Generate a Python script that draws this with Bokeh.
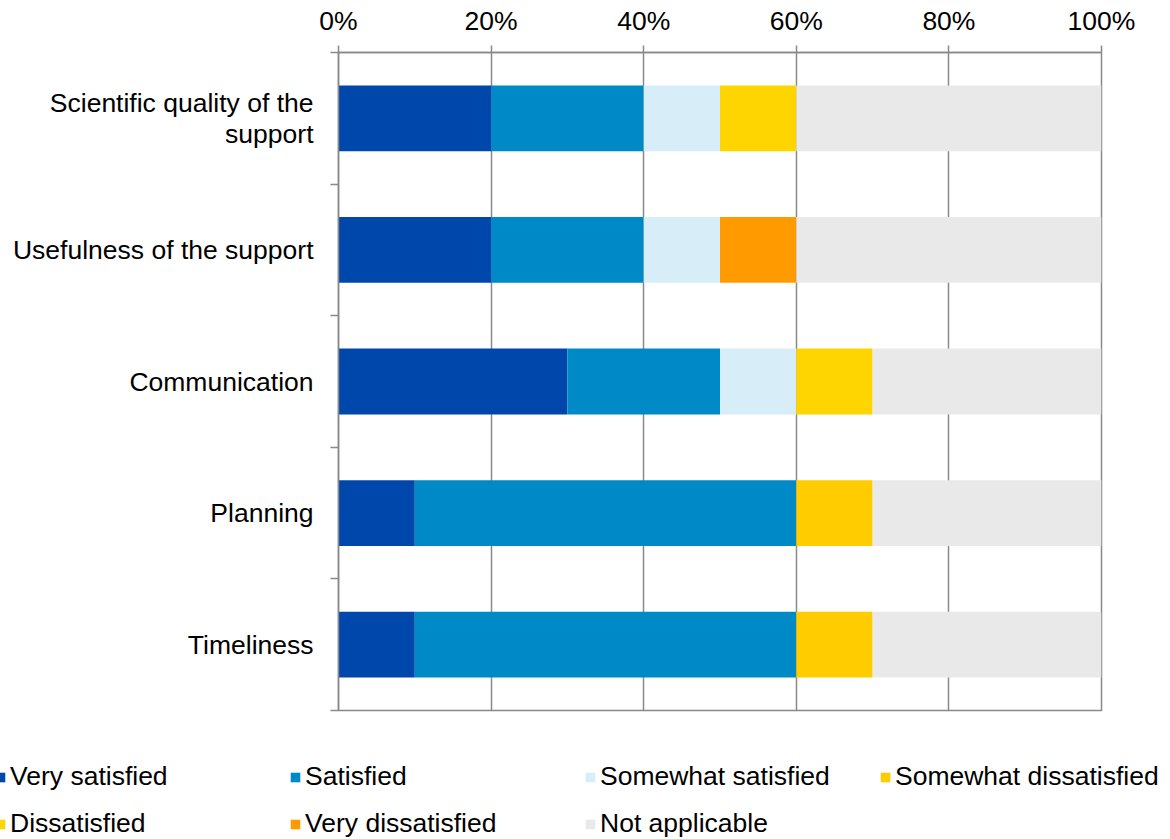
from bokeh.plotting import figure
from bokeh.models import ColumnDataSource, FixedTicker, Legend, Range1d
from bokeh.layouts import column, row
from bokeh.embed import file_html
from bokeh.resources import INLINE

categories = ["Scientific quality of the\nsupport", "Usefulness of the support",
              "Communication", "Planning", "Timeliness"]
series = ["Very satisfied", "Satisfied", "Somewhat satisfied", "Somewhat dissatisfied",
          "Dissatisfied", "Very dissatisfied", "Not applicable"]
very_satisfied = [20, 20, 30, 10, 10]
satisfied = [20, 20, 20, 50, 50]
somewhat_satisfied = [10, 10, 10, 0, 0]
somewhat_dissatisfied = [0, 0, 0, 10, 10]
dissatisfied = [10, 0, 10, 0, 0]
very_dissatisfied = [0, 10, 0, 0, 0]
not_applicable = [40, 40, 30, 30, 30]
x_ticks = [0, 20, 40, 60, 80, 100]

colors = ["#0047AB", "#0089C7", "#D7EEF9", "#FFCC00", "#FFD500", "#FF9B00", "#E9E9E9"]

n = len(categories)
ypos = [n - i - 0.5 for i in range(n)]
data = {"y": ypos}
for name, vals in zip(series, [very_satisfied, satisfied, somewhat_satisfied,
                               somewhat_dissatisfied, dissatisfied,
                               very_dissatisfied, not_applicable]):
    data[name] = vals
src = ColumnDataSource(data)

FONT = "Liberation Sans"
FS = "26.5px"
GRAY = "#898989"

p = figure(width=1162, height=716, output_backend="svg", toolbar_location=None,
           x_range=Range1d(0, 100), y_range=Range1d(0, n),
           x_axis_location="above", min_border_left=338, min_border_right=61,
           min_border_top=52, min_border_bottom=6)
p.frame_width = 763
p.frame_height = 658

renderers = p.hbar_stack(series, y="y", height=0.5, color=colors, source=src,
                         line_width=0)

# x axis (top)
xa = p.xaxis[0]
xa.ticker = FixedTicker(ticks=x_ticks)
xa.major_label_overrides = {t: f"{t}%" for t in x_ticks}
xa.major_label_text_font = FONT
xa.major_label_text_font_size = FS
xa.major_label_text_color = "#000000"
xa.axis_line_color = GRAY
xa.axis_line_width = 1.5
xa.major_tick_line_color = GRAY
xa.major_tick_line_width = 1.5
xa.major_tick_out = 7
xa.major_tick_in = 0
xa.minor_tick_line_color = None
xa.major_label_standoff = 10

# y axis (left)
ya = p.yaxis[0]
ya.ticker = FixedTicker(ticks=ypos, minor_ticks=list(range(n + 1)))
ya.major_label_overrides = {y: c for y, c in zip(ypos, categories)}
ya.major_label_text_font = FONT
ya.major_label_text_font_size = FS
ya.major_label_text_color = "#000000"
ya.major_label_text_line_height = 1.05
ya.axis_line_color = GRAY
ya.axis_line_width = 1.5
ya.major_tick_line_color = None
ya.major_tick_out = 0
ya.major_tick_in = 0
ya.minor_tick_line_color = GRAY
ya.minor_tick_line_width = 1.5
ya.minor_tick_out = 8
ya.minor_tick_in = 0
ya.major_label_standoff = 17

p.xgrid.ticker = FixedTicker(ticks=x_ticks)
p.xgrid.grid_line_color = GRAY
p.xgrid.grid_line_width = 1.5
p.ygrid.grid_line_color = None

p.outline_line_color = GRAY
p.outline_line_width = 1.5

# legend-only figure: same stacked bars, scrolled out of view
lg = figure(width=1162, height=123, output_backend="svg", toolbar_location=None,
            x_range=Range1d(0, 100), y_range=Range1d(1000, 1001),
            min_border_left=0, min_border_right=0, min_border_top=0,
            min_border_bottom=0)
lg.axis.visible = False
lg.grid.grid_line_color = None
lg.outline_line_color = None
lg_renderers = lg.hbar_stack(series, y="y", height=0.5, color=colors, source=src,
                             line_width=0)

legend = Legend(items=[(s, [r]) for s, r in zip(series, lg_renderers)],
                location=(-6, 0), ncols=4, orientation="horizontal",
                glyph_width=12, glyph_height=12, label_standoff=4,
                label_width=263, label_height=28, spacing=16, padding=0,
                margin=0, border_line_color=None, background_fill_alpha=0,
                label_text_font=FONT, label_text_font_size=FS,
                label_text_color="#000000")
lg.add_layout(legend, "center")

layout = column(p, row(lg, spacing=0), spacing=0)
open("out.html", "w").write(file_html(layout, INLINE))
